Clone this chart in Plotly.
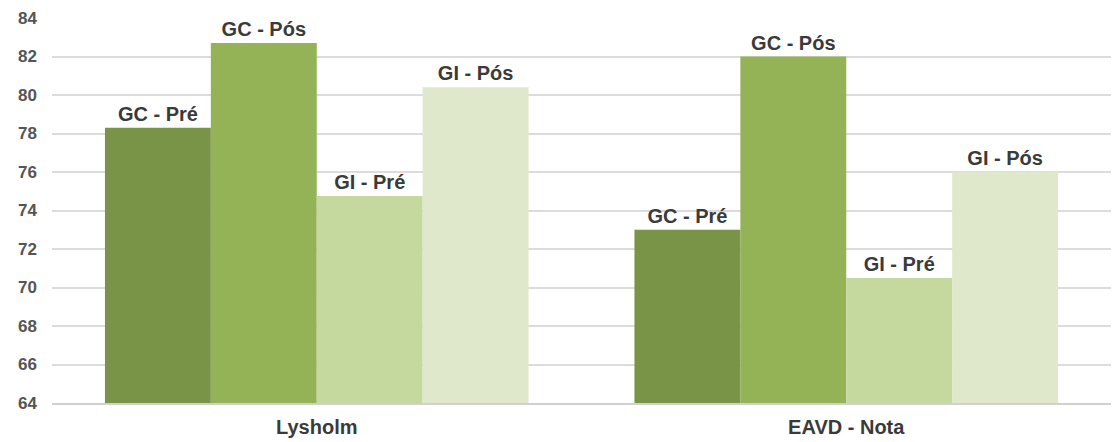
import plotly.graph_objects as go

categories = ["Lysholm", "EAVD - Nota"]
series_names = ["GC - Pré", "GC - Pós", "GI - Pré", "GI - Pós"]
gc_pre = [78.3, 73.0]
gc_pos = [82.7, 82.0]
gi_pre = [74.75, 70.5]
gi_pos = [80.4, 76.0]
y_ticks = [64, 66, 68, 70, 72, 74, 76, 78, 80, 82, 84]

values = [gc_pre, gc_pos, gi_pre, gi_pos]
colors = ["#7a9447", "#93b356", "#c5d89e", "#dfe8cb"]

fig = go.Figure()
for name, vals, col in zip(series_names, values, colors):
    fig.add_trace(go.Bar(
        x=categories, y=vals, name=name,
        marker=dict(color=col, line=dict(width=0)),
        text=[name] * len(vals), textposition="outside",
        textfont=dict(family="Liberation Sans", size=20, color="#3a3a3a", weight="bold"),
        cliponaxis=False,
    ))

fig.update_layout(
    width=1116, height=442,
    margin=dict(l=52, r=5, t=18, b=39),
    paper_bgcolor="white", plot_bgcolor="white",
    barmode="group", bargap=0.2, bargroupgap=0,
    showlegend=False,
    font=dict(family="Liberation Sans"),
)
fig.update_yaxes(
    range=[64, 84], tickvals=y_ticks,
    showgrid=True, gridcolor="#dcdcdc", gridwidth=1.5,
    zeroline=False, showline=False,
    tickfont=dict(family="Liberation Sans", size=17, color="#555555", weight="bold"),
    ticklabelstandoff=14,
)
fig.update_xaxes(
    showline=True, linecolor="#d0d0d0", linewidth=1.5,
    tickfont=dict(family="Liberation Sans", size=20, color="#3a3a3a", weight="bold"),
    ticklabelstandoff=5,
)

fig.write_html("out.html")
